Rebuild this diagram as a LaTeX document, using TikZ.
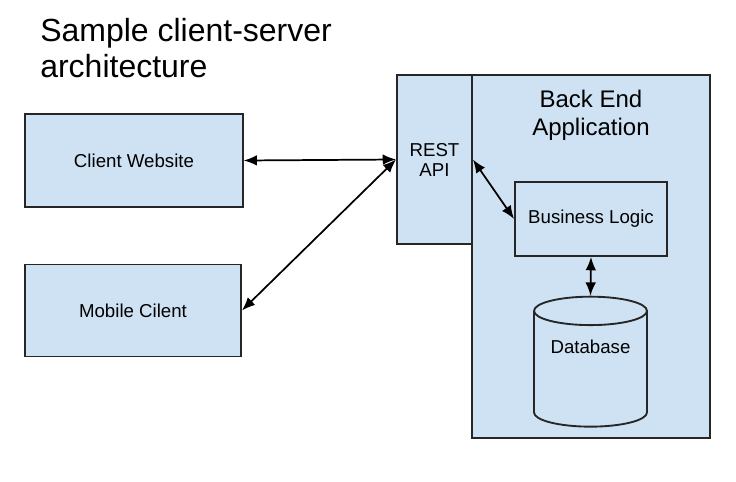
\documentclass[tikz,border=0pt]{standalone}
\usepackage{fontspec}
\setmainfont{Liberation Sans}
\usetikzlibrary{positioning, arrows.meta, shapes.geometric}
\definecolor{boxblue}{HTML}{CFE2F3}
\definecolor{capblue}{HTML}{E1ECF7}

\begin{document}
\begin{tikzpicture}[x=0.75pt,y=-0.75pt,font=\fontsize{14pt}{15pt}\selectfont,
  box/.style={draw=black!85, line width=1.4pt, fill=boxblue, text centered},
  link/.style={{Latex[length=10pt,width=8pt]}-{Latex[length=10pt,width=8pt]}, line width=1.3pt}]

\useasboundingbox (0,0) rectangle (736,482);

% Title
\node[anchor=north west, inner sep=0, align=left, font=\fontsize{24pt}{27pt}\selectfont] (title) at (40,18) {Sample client-server\\architecture};

% Clients
\node[box, minimum width=163pt, minimum height=70pt] (client_website) at (134,160.5) {Client Website};
\node[box, minimum width=162pt, minimum height=69pt] (mobile_client) at (133,310.5) {Mobile Cilent};

% Back end
\node[box, minimum width=178.5pt, minimum height=272.25pt] (back_end) at (591,256.5) {};
\node[box, align=center, minimum width=56.25pt, minimum height=126.75pt] (rest_api) at (434.5,159.5) {REST\\API};
\node[below=12pt of back_end.north, inner sep=0, align=center, font=\fontsize{18pt}{21pt}\selectfont] (back_end_title) {Back End\\Application};
\node[box, minimum width=114pt, minimum height=55.5pt] (business_logic) at (591,219) {Business Logic};
\node[box, cylinder, shape border rotate=90, aspect=3.2, cylinder uses custom fill, cylinder body fill=boxblue, cylinder end fill=capblue, minimum width=84.75pt, minimum height=97.5pt] (database) at (590.5,372) {};
\node[above=10.5pt of database.center] (database_text) {Database};

% Links
\draw[link] (client_website.east) -- (rest_api.west);
\draw[link] (mobile_client.east) -- (rest_api.west);
\draw[link] (rest_api.east) -- (business_logic.west);
\draw[link] (business_logic.south) -- (database.north);
\end{tikzpicture}
\end{document}
